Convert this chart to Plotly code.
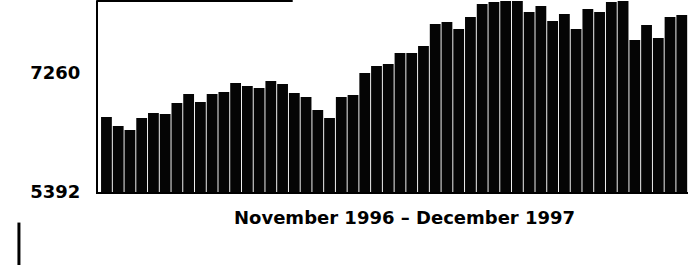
import plotly.graph_objects as go

# Weekly series, November 1996 - December 1997
weeks = list(range(1, 51))
values = [
    6569, 6428, 6365, 6554, 6632, 6617, 6789, 6931, 6805, 6931,
    6962, 7103, 7056, 7025, 7135, 7088, 6946, 6884, 6679, 6554,
    6884, 6915, 7260, 7370, 7402, 7574, 7574, 7684, 8030, 8061,
    7951, 8140, 8344, 8375, 8420, 8400, 8218, 8312, 8077, 8187,
    7951, 8265, 8218, 8375, 8390, 7778, 8014, 7810, 8140, 8171,
]
tick_vals = [5392, 7260]
tick_text = ["5392", "7260"]
y_min, y_max = 5392, 8390
x_title = "November 1996 \u2013 December 1997"

fig = go.Figure(
    go.Bar(
        x=weeks,
        y=values,
        marker=dict(color="#050505", line=dict(width=0)),
        hoverinfo="skip",
    )
)

fig.update_layout(
    width=688,
    height=265,
    margin=dict(l=98, r=0, t=1, b=73),
    paper_bgcolor="white",
    plot_bgcolor="white",
    bargap=0.08,
    showlegend=False,
    font=dict(family="DejaVu Sans", color="black"),
    xaxis=dict(
        range=[0.28, 50.53],
        showticklabels=False,
        ticks="",
        showgrid=False,
        zeroline=False,
        showline=True,
        linecolor="black",
        linewidth=2,
    ),
    yaxis=dict(
        range=[y_min, y_max],
        tickvals=tick_vals,
        ticktext=tick_text,
        ticks="",
        showgrid=False,
        zeroline=False,
        showline=True,
        linecolor="black",
        linewidth=2,
        ticklabelstandoff=12,
        tickfont=dict(family="DejaVu Sans", size=18, weight="bold", color="black"),
    ),
    annotations=[
        dict(
            text=x_title,
            xref="paper", yref="paper",
            x=0.52, y=0,
            xanchor="center", yanchor="middle",
            yshift=-25,
            showarrow=False,
            font=dict(family="DejaVu Sans", size=18, weight="bold", color="black"),
        )
    ],
    shapes=[
        dict(type="line", xref="paper", yref="paper",
             x0=-0.003, x1=0.33, y0=1.0, y1=1.0,
             line=dict(color="black", width=2)),
        dict(type="line", xref="paper", yref="paper",
             x0=-0.134, x1=-0.134, y0=-0.16, y1=-0.39,
             line=dict(color="black", width=3)),
    ],
)

fig.write_html(
    "out.html",
    config={"displayModeBar": False, "staticPlot": True},
    post_script="document.body.style.margin='0';",
)
